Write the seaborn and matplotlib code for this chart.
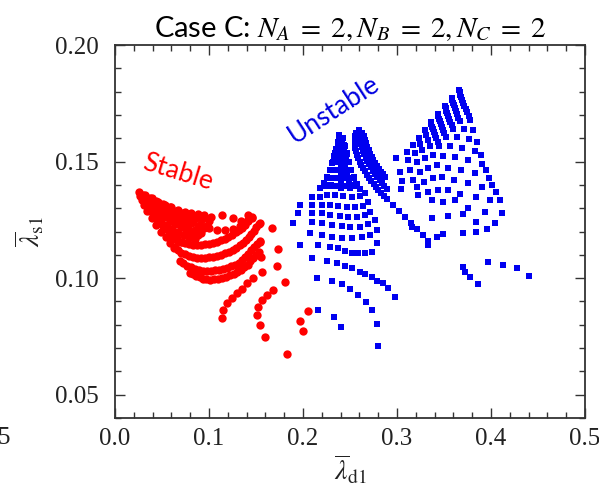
import numpy as np
import pandas as pd
import matplotlib
matplotlib.use("Agg")
import matplotlib.pyplot as plt
import seaborn as sns
from matplotlib.ticker import MultipleLocator

# ---------------- data ----------------
# Stable (red): wedge rays near the apex
red_wa_x = [0.025, 0.032, 0.039, 0.046, 0.053, 0.060, 0.067, 0.074, 0.081, 0.088, 0.095, 0.102]
red_wa_y = [0.1370, 0.1357, 0.1343, 0.1327, 0.1314, 0.1303, 0.1292, 0.1285, 0.1280, 0.1277, 0.1272, 0.1262]
red_wab_x = [0.030, 0.037, 0.044, 0.051, 0.058, 0.065, 0.072, 0.079, 0.086, 0.093, 0.100]
red_wab_y = [0.1358, 0.1345, 0.1330, 0.1316, 0.1303, 0.1290, 0.1278, 0.1268, 0.1260, 0.1252, 0.1244]
red_wb_x = [0.027, 0.034, 0.041, 0.048, 0.055, 0.062, 0.069, 0.076, 0.083, 0.090, 0.097]
red_wb_y = [0.1352, 0.1335, 0.1318, 0.1302, 0.1288, 0.1275, 0.1263, 0.1251, 0.1240, 0.1230, 0.1222]
red_wbc_x = [0.032, 0.039, 0.046, 0.053, 0.060, 0.067, 0.074, 0.081, 0.088, 0.095]
red_wbc_y = [0.1340, 0.1322, 0.1305, 0.1289, 0.1274, 0.1260, 0.1247, 0.1235, 0.1224, 0.1213]
red_wc_x = [0.029, 0.036, 0.043, 0.050, 0.057, 0.064, 0.071, 0.078, 0.085, 0.092]
red_wc_y = [0.1333, 0.1312, 0.1293, 0.1276, 0.1260, 0.1245, 0.1231, 0.1218, 0.1206, 0.1195]
red_wcd_x = [0.034, 0.040, 0.046, 0.052, 0.058, 0.064, 0.070, 0.076, 0.082, 0.088]
red_wcd_y = [0.1320, 0.1300, 0.1281, 0.1263, 0.1247, 0.1232, 0.1219, 0.1206, 0.1194, 0.1184]
red_wd_x = [0.031, 0.037, 0.043, 0.049, 0.055, 0.061, 0.067, 0.073, 0.079, 0.085]
red_wd_y = [0.1312, 0.1288, 0.1266, 0.1246, 0.1228, 0.1212, 0.1198, 0.1186, 0.1175, 0.1166]
red_wde_x = [0.036, 0.041, 0.046, 0.051, 0.056, 0.061, 0.066, 0.071]
red_wde_y = [0.1300, 0.1273, 0.1248, 0.1225, 0.1205, 0.1186, 0.1170, 0.1156]
red_we_x = [0.034, 0.039, 0.044, 0.049, 0.054, 0.059, 0.064]
red_we_y = [0.1290, 0.1258, 0.1228, 0.1200, 0.1175, 0.1152, 0.1132]
# Stable: bands (arcs)
red_b0_x = [0.100, 0.108, 0.117, 0.125, 0.133, 0.140, 0.114, 0.1255, 0.134, 0.1415, 0.1457]
red_b0_y = [0.1215, 0.1208, 0.1205, 0.1210, 0.1225, 0.1245, 0.1271, 0.1258, 0.1246, 0.1271, 0.1263]
red_b1_x = [0.0585, 0.066, 0.0745, 0.083, 0.0915, 0.100, 0.1085, 0.117, 0.1245, 0.1319, 0.1383, 0.1457,
            0.0622, 0.0702, 0.0787, 0.0872, 0.0957, 0.1042, 0.1127, 0.1207, 0.1282, 0.1351, 0.1420]
red_b1_y = [0.1181, 0.1164, 0.1151, 0.1143, 0.1143, 0.1147, 0.1156, 0.1168, 0.1186, 0.1207, 0.1228, 0.1258,
            0.1172, 0.1157, 0.1147, 0.1143, 0.1145, 0.1151, 0.1162, 0.1177, 0.1196, 0.1217, 0.1243]
red_b2_x = [0.0628, 0.0702, 0.0787, 0.0872, 0.0957, 0.1043, 0.1128, 0.1213, 0.1287, 0.1362, 0.1426, 0.1479, 0.1532,
            0.0665, 0.0745, 0.0830, 0.0915, 0.1000, 0.1085, 0.1170, 0.1250, 0.1325, 0.1394, 0.1452, 0.1505]
red_b2_y = [0.1130, 0.1108, 0.1096, 0.1087, 0.1087, 0.1091, 0.1100, 0.1113, 0.1130, 0.1151, 0.1177, 0.1203, 0.1233,
            0.1119, 0.1102, 0.1091, 0.1087, 0.1089, 0.1095, 0.1106, 0.1121, 0.1140, 0.1164, 0.1190, 0.1218]
red_b3_x = [0.0691, 0.0766, 0.0851, 0.0936, 0.1021, 0.1106, 0.1191, 0.1277, 0.1351, 0.1415, 0.1479, 0.1543,
            0.0728, 0.0808, 0.0893, 0.0978, 0.1063, 0.1148, 0.1234, 0.1314, 0.1383, 0.1447, 0.1511]
red_b3_y = [0.1074, 0.1053, 0.1040, 0.1031, 0.1031, 0.1036, 0.1044, 0.1057, 0.1078, 0.1104, 0.1134, 0.1160,
            0.1063, 0.1046, 0.1035, 0.1031, 0.1033, 0.1040, 0.1050, 0.1067, 0.1091, 0.1119, 0.1147]
red_b4_x = [0.0798, 0.0862, 0.0936, 0.1011, 0.1096, 0.1181, 0.1266, 0.1340, 0.1415, 0.1468, 0.1532,
            0.0830, 0.0899, 0.0973, 0.1053, 0.1138, 0.1223, 0.1303, 0.1377, 0.1441, 0.1500]
red_b4_y = [0.1023, 0.1010, 0.0997, 0.0993, 0.0997, 0.1006, 0.1018, 0.1036, 0.1057, 0.1087, 0.1113,
            0.1016, 0.1003, 0.0995, 0.0995, 0.1001, 0.1012, 0.1027, 0.1046, 0.1072, 0.1100]
red_c_x = [0.1138, 0.1149, 0.1191, 0.1245, 0.1298, 0.1351, 0.1404, 0.1468, 0.1564, 0.1553, 0.1543, 0.1543]
red_c_y = [0.0830, 0.0864, 0.0894, 0.0916, 0.0937, 0.0954, 0.0980, 0.1001, 0.1027, 0.1091, 0.1156, 0.1237]
red_d_x = [0.1596, 0.1543, 0.1511, 0.1521, 0.1564, 0.1617, 0.1681, 0.1809, 0.1723, 0.1734, 0.1670]
red_d_y = [0.0748, 0.0800, 0.0843, 0.0877, 0.0907, 0.0929, 0.0950, 0.0984, 0.1053, 0.1126, 0.1216]
red_e_x = [0.2053, 0.1968, 0.2000, 0.1830]
red_e_y = [0.0860, 0.0817, 0.0774, 0.0676]

# Unstable (blue): cone, as lines from the apex and rows across
blu_cl_x = [0.2383, 0.2372, 0.2351, 0.2330, 0.2309, 0.2287, 0.2255, 0.2223, 0.2181]
blu_cl_y = [0.1614, 0.1584, 0.1554, 0.1524, 0.1494, 0.1464, 0.1434, 0.1408, 0.1387]
blu_cl2_x = [0.2383, 0.2362, 0.2340, 0.2309, 0.2277, 0.2245]
blu_cl2_y = [0.1593, 0.1550, 0.1507, 0.1464, 0.1430, 0.1396]
blu_cml_x = [0.2394, 0.2383, 0.2372, 0.2362, 0.2340, 0.2319, 0.2298]
blu_cml_y = [0.1601, 0.1567, 0.1533, 0.1499, 0.1464, 0.1430, 0.1400]
blu_cm_x = [0.2404, 0.2404, 0.2404, 0.2404, 0.2404, 0.2404, 0.2404]
blu_cm_y = [0.1593, 0.1559, 0.1524, 0.1490, 0.1456, 0.1421, 0.1387]
blu_cmr_x = [0.2415, 0.2426, 0.2436, 0.2447, 0.2468, 0.2489, 0.2500]
blu_cmr_y = [0.1589, 0.1554, 0.1520, 0.1486, 0.1451, 0.1417, 0.1387]
blu_cr2_x = [0.2415, 0.2436, 0.2457, 0.2479, 0.2511, 0.2543]
blu_cr2_y = [0.1597, 0.1550, 0.1507, 0.1464, 0.1430, 0.1396]
blu_cr_x = [0.2426, 0.2447, 0.2468, 0.2489, 0.2511, 0.2543, 0.2574, 0.2606]
blu_cr_y = [0.1601, 0.1567, 0.1533, 0.1499, 0.1464, 0.1434, 0.1404, 0.1383]
blu_h1_x = [0.2372, 0.2394, 0.2415, 0.2436]
blu_h1_y = [0.1570, 0.1570, 0.1570, 0.1570]
blu_h2_x = [0.2340, 0.2362, 0.2383, 0.2404, 0.2426, 0.2447, 0.2468]
blu_h2_y = [0.1535, 0.1535, 0.1535, 0.1535, 0.1535, 0.1535, 0.1535]
blu_h3_x = [0.2319, 0.2340, 0.2362, 0.2383, 0.2404, 0.2426, 0.2447, 0.2468, 0.2489]
blu_h3_y = [0.1500, 0.1500, 0.1500, 0.1500, 0.1500, 0.1500, 0.1500, 0.1500, 0.1500]
blu_h4_x = [0.2298, 0.2319, 0.2340, 0.2362, 0.2383, 0.2404, 0.2426, 0.2447, 0.2468, 0.2489, 0.2511]
blu_h4_y = [0.1465, 0.1465, 0.1465, 0.1465, 0.1465, 0.1465, 0.1465, 0.1465, 0.1465, 0.1465, 0.1465]
blu_h5_x = [0.2266, 0.2290, 0.2315, 0.2340, 0.2365, 0.2390, 0.2415, 0.2440, 0.2465, 0.2490, 0.2515, 0.2540]
blu_h5_y = [0.1430, 0.1430, 0.1430, 0.1430, 0.1430, 0.1430, 0.1430, 0.1430, 0.1430, 0.1430, 0.1430, 0.1430]
blu_h6_x = [0.2234, 0.2260, 0.2285, 0.2310, 0.2335, 0.2360, 0.2385, 0.2410, 0.2435, 0.2460, 0.2485, 0.2510, 0.2535, 0.2560]
blu_h6_y = [0.1400, 0.1398, 0.1397, 0.1396, 0.1396, 0.1396, 0.1396, 0.1396, 0.1396, 0.1396, 0.1397, 0.1398, 0.1400, 0.1402]
# Unstable: arcs below the cone
blu_ra_x = [0.2096, 0.2181, 0.2255, 0.2340, 0.2426, 0.2521, 0.2606, 0.2660]
blu_ra_y = [0.1348, 0.1348, 0.1357, 0.1357, 0.1353, 0.1348, 0.1353, 0.1366]
blu_rb_x = [0.1968, 0.2096, 0.2202, 0.2287, 0.2372, 0.2468, 0.2553, 0.2638, 0.2691]
blu_rb_y = [0.1314, 0.1314, 0.1314, 0.1314, 0.1310, 0.1306, 0.1306, 0.1310, 0.1327]
blu_rc_x = [0.1947, 0.2096, 0.2202, 0.2287, 0.2394, 0.2479, 0.2574, 0.2660, 0.2713]
blu_rc_y = [0.1280, 0.1280, 0.1280, 0.1271, 0.1267, 0.1263, 0.1263, 0.1271, 0.1284]
blu_rd_x = [0.1894, 0.2096, 0.2202, 0.2309, 0.2415, 0.2500, 0.2606, 0.2691, 0.2766]
blu_rd_y = [0.1237, 0.1241, 0.1237, 0.1228, 0.1224, 0.1220, 0.1220, 0.1233, 0.1250]
blu_re_x = [0.2074, 0.2202, 0.2309, 0.2415, 0.2521, 0.2628, 0.2713, 0.2787]
blu_re_y = [0.1194, 0.1186, 0.1177, 0.1173, 0.1173, 0.1177, 0.1186, 0.1207]
blu_rf_x = [0.1968, 0.2160, 0.2287, 0.2372, 0.2447, 0.2521, 0.2585, 0.2660, 0.2734, 0.2787]
blu_rf_y = [0.1143, 0.1143, 0.1134, 0.1130, 0.1117, 0.1108, 0.1108, 0.1108, 0.1113, 0.1151]
blu_rg_x = [0.2096, 0.2255, 0.2362, 0.2447, 0.2521, 0.2606, 0.2660, 0.2734, 0.2787, 0.2851, 0.2904, 0.2979]
blu_rg_y = [0.1087, 0.1074, 0.1066, 0.1053, 0.1044, 0.1027, 0.1018, 0.1006, 0.0988, 0.0980, 0.0958, 0.0920]
blu_rh_x = [0.2149, 0.2309, 0.2415, 0.2500, 0.2585, 0.2670, 0.2734, 0.2787]
blu_rh_y = [0.1001, 0.0988, 0.0976, 0.0954, 0.0929, 0.0898, 0.0864, 0.0804]
blu_ri_x = [0.2160, 0.2330, 0.2404, 0.2798]
blu_ri_y = [0.0864, 0.0834, 0.0791, 0.0710]
# Unstable: ridge
blu_g1_x = [0.2564, 0.2553, 0.2553, 0.2574, 0.2606, 0.2638, 0.2681, 0.2723, 0.2777, 0.2830, 0.2894,
            0.2957, 0.3021, 0.3085, 0.3149, 0.3213, 0.3277, 0.3330,
            0.2558, 0.2553, 0.2564, 0.2590, 0.2622, 0.2660, 0.2702, 0.2750, 0.2803, 0.2862]
blu_g1_y = [0.1623, 0.1593, 0.1559, 0.1529, 0.1499, 0.1473, 0.1443, 0.1417, 0.1391, 0.1366, 0.1340,
            0.1314, 0.1289, 0.1263, 0.1237, 0.1211, 0.1186, 0.1160,
            0.1608, 0.1576, 0.1544, 0.1514, 0.1486, 0.1458, 0.1430, 0.1404, 0.1378, 0.1353]
blu_g2_x = [0.2596, 0.2606, 0.2617, 0.2638, 0.2670, 0.2702, 0.2745, 0.2787, 0.2840, 0.2894,
            0.2601, 0.2612, 0.2628, 0.2654, 0.2686, 0.2723, 0.2766, 0.2814, 0.2867]
blu_g2_y = [0.1636, 0.1606, 0.1576, 0.1546, 0.1516, 0.1490, 0.1460, 0.1434, 0.1408, 0.1383,
            0.1621, 0.1591, 0.1561, 0.1531, 0.1503, 0.1475, 0.1447, 0.1421, 0.1395]
blu_g3_x = [0.2628, 0.2660, 0.2681, 0.2713, 0.2745, 0.2787, 0.2830, 0.2872,
            0.2644, 0.2670, 0.2697, 0.2729, 0.2766, 0.2809, 0.2851]
blu_g3_y = [0.1623, 0.1593, 0.1563, 0.1533, 0.1507, 0.1481, 0.1456, 0.1434,
            0.1608, 0.1578, 0.1548, 0.1520, 0.1494, 0.1468, 0.1445]
blu_g4_x = [0.3426, 0.3489, 0.3330, 0.3160]
blu_g4_y = [0.1177, 0.1190, 0.1143, 0.1220]
# Unstable: right lattice (columns)
blu_k0_x = [0.2989, 0.3032, 0.3053, 0.3043]
blu_k0_y = [0.1516, 0.1456, 0.1417, 0.1383]
blu_k1_x = [0.3106, 0.3117, 0.3138, 0.3170, 0.3213, 0.3223]
blu_k1_y = [0.1541, 0.1507, 0.1464, 0.1421, 0.1391, 0.1357]
blu_k2_x = [0.3170, 0.3191, 0.3213, 0.3245, 0.3287, 0.3330, 0.3372]
blu_k2_y = [0.1571, 0.1537, 0.1499, 0.1456, 0.1413, 0.1370, 0.1336]
blu_k3_x = [0.3234, 0.3245, 0.3266, 0.3298, 0.3330, 0.3383, 0.3436, 0.3489, 0.3543]
blu_k3_y = [0.1601, 0.1576, 0.1550, 0.1516, 0.1473, 0.1430, 0.1378, 0.1327, 0.1267]
blu_k4_x = [0.3298, 0.3309, 0.3330, 0.3351, 0.3383, 0.3426, 0.3479, 0.3543, 0.3617, 0.3702]
blu_k4_y = [0.1636, 0.1614, 0.1593, 0.1567, 0.1529, 0.1486, 0.1434, 0.1378, 0.1336, 0.1276]
blu_k5_x = [0.3362, 0.3372, 0.3394, 0.3415, 0.3447, 0.3489, 0.3543, 0.3606, 0.3670, 0.3755, 0.3840,
            0.3367, 0.3383, 0.3404, 0.3431]
blu_k5_y = [0.1670, 0.1649, 0.1627, 0.1601, 0.1567, 0.1524, 0.1473, 0.1421, 0.1361, 0.1301, 0.1241,
            0.1660, 0.1638, 0.1614, 0.1584]
blu_k6_x = [0.3436, 0.3447, 0.3468, 0.3489, 0.3521, 0.3564, 0.3617, 0.3681, 0.3755, 0.3840, 0.3936,
            0.3441, 0.3457, 0.3479, 0.3505]
blu_k6_y = [0.1704, 0.1683, 0.1661, 0.1636, 0.1606, 0.1567, 0.1520, 0.1464, 0.1408, 0.1348, 0.1284,
            0.1694, 0.1672, 0.1649, 0.1621]
blu_k7_x = [0.3511, 0.3521, 0.3543, 0.3564, 0.3596, 0.3638, 0.3691, 0.3755, 0.3830, 0.3904, 0.3989,
            0.3516, 0.3532, 0.3553, 0.3580]
blu_k7_y = [0.1739, 0.1717, 0.1696, 0.1670, 0.1640, 0.1606, 0.1559, 0.1507, 0.1451, 0.1391, 0.1336,
            0.1728, 0.1707, 0.1683, 0.1655]
blu_k8_x = [0.3585, 0.3596, 0.3617, 0.3638, 0.3670, 0.3713, 0.3766, 0.3830, 0.3904, 0.3979, 0.4053,
            0.3590, 0.3606, 0.3627, 0.3654]
blu_k8_y = [0.1773, 0.1751, 0.1730, 0.1704, 0.1674, 0.1640, 0.1597, 0.1546, 0.1490, 0.1430, 0.1370,
            0.1762, 0.1741, 0.1717, 0.1689]
blu_k9_x = [0.3660, 0.3670, 0.3691, 0.3713, 0.3745, 0.3777, 0.3809, 0.3851, 0.3894, 0.3947, 0.4011, 0.4096, 0.4117,
            0.3665, 0.3681, 0.3702, 0.3729, 0.3761]
blu_k9_y = [0.1807, 0.1786, 0.1764, 0.1739, 0.1713, 0.1679, 0.1636, 0.1584, 0.1529, 0.1464, 0.1400, 0.1336, 0.1280,
            0.1797, 0.1775, 0.1752, 0.1726, 0.1696]
blu_kb_x = [0.3489, 0.3702, 0.3840, 0.3957, 0.4043, 0.3372, 0.3426]
blu_kb_y = [0.1190, 0.1194, 0.1198, 0.1211, 0.1237, 0.1258, 0.1177]
# Unstable: isolated points lower right
blu_s_x = [0.3702, 0.3723, 0.3777, 0.3862, 0.3968, 0.4128, 0.4277, 0.4404]
blu_s_y = [0.1048, 0.1027, 0.1006, 0.0976, 0.1070, 0.1057, 0.1044, 0.1010]

x_ticks = [0.0, 0.1, 0.2, 0.3, 0.4, 0.5]
y_ticks = [0.05, 0.10, 0.15, 0.20]

# ---------------- assemble ----------------
red_x = np.concatenate([red_wa_x, red_wab_x, red_wb_x, red_wbc_x, red_wc_x, red_wcd_x, red_wd_x,
                        red_wde_x, red_we_x, red_b0_x, red_b1_x, red_b2_x, red_b3_x, red_b4_x,
                        red_c_x, red_d_x, red_e_x])
red_y = np.concatenate([red_wa_y, red_wab_y, red_wb_y, red_wbc_y, red_wc_y, red_wcd_y, red_wd_y,
                        red_wde_y, red_we_y, red_b0_y, red_b1_y, red_b2_y, red_b3_y, red_b4_y,
                        red_c_y, red_d_y, red_e_y])
blu_x = np.concatenate([blu_cl_x, blu_cl2_x, blu_cml_x, blu_cm_x, blu_cmr_x, blu_cr2_x, blu_cr_x,
                        blu_h1_x, blu_h2_x, blu_h3_x, blu_h4_x, blu_h5_x, blu_h6_x,
                        blu_ra_x, blu_rb_x, blu_rc_x, blu_rd_x, blu_re_x, blu_rf_x, blu_rg_x, blu_rh_x,
                        blu_ri_x, blu_g1_x, blu_g2_x, blu_g3_x, blu_g4_x, blu_k0_x, blu_k1_x, blu_k2_x,
                        blu_k3_x, blu_k4_x, blu_k5_x, blu_k6_x, blu_k7_x, blu_k8_x, blu_k9_x, blu_kb_x,
                        blu_s_x])
blu_y = np.concatenate([blu_cl_y, blu_cl2_y, blu_cml_y, blu_cm_y, blu_cmr_y, blu_cr2_y, blu_cr_y,
                        blu_h1_y, blu_h2_y, blu_h3_y, blu_h4_y, blu_h5_y, blu_h6_y,
                        blu_ra_y, blu_rb_y, blu_rc_y, blu_rd_y, blu_re_y, blu_rf_y, blu_rg_y, blu_rh_y,
                        blu_ri_y, blu_g1_y, blu_g2_y, blu_g3_y, blu_g4_y, blu_k0_y, blu_k1_y, blu_k2_y,
                        blu_k3_y, blu_k4_y, blu_k5_y, blu_k6_y, blu_k7_y, blu_k8_y, blu_k9_y, blu_kb_y,
                        blu_s_y])

df_red = pd.DataFrame({"ld1": red_x, "ls1": red_y})
df_blu = pd.DataFrame({"ld1": blu_x, "ls1": blu_y})

# ---------------- plot ----------------
sns.set_theme(style="ticks")
plt.rcParams["font.family"] = ["Liberation Serif", "DejaVu Serif"]
plt.rcParams["mathtext.fontset"] = "stix"

fig = plt.figure(figsize=(5.99, 5.0), dpi=100)
ax = fig.add_axes([115 / 599, 1 - 418 / 500, 470 / 599, 373 / 500])

sns.scatterplot(data=df_red, x="ld1", y="ls1", ax=ax, color="#ff0000", s=36,
                linewidth=0, marker="o", legend=False)
sns.scatterplot(data=df_blu, x="ld1", y="ls1", ax=ax, color="#0000f0", s=15,
                linewidth=0, marker="s", legend=False)

ax.set_xlim(0.0, 0.5)
ax.set_ylim(0.04, 0.20)
ax.set_xticks(x_ticks)
ax.set_xticklabels([f"{v:.1f}" for v in x_ticks])
ax.set_yticks(y_ticks)
ax.set_yticklabels([f"{v:.2f}" for v in y_ticks])
ax.xaxis.set_minor_locator(MultipleLocator(0.02))
ax.yaxis.set_minor_locator(MultipleLocator(0.01))
ax.tick_params(which="both", direction="in", top=True, right=True, colors="#333333",
               labelcolor="#222222", labelsize=18, width=1.0)
ax.tick_params(which="major", length=7)
ax.tick_params(which="minor", length=4)
ax.tick_params(axis="x", which="major", pad=7)
ax.tick_params(axis="y", which="major", pad=12)
for sp in ax.spines.values():
    sp.set_linewidth(1.3)
    sp.set_color("#333333")

ax.set_xlabel(r"$\overline{\lambda}_{\mathrm{d1}}$", fontsize=20, labelpad=2, color="#222222")
ax.set_ylabel(r"$\overline{\lambda}_{\mathrm{s1}}$", fontsize=20, labelpad=6, color="#222222")

ax.set_title(r"Case C: $N_A\;=\;2, N_B\;=\;2, N_C\;=\;2$", fontsize=21,
             family=["Lato", "DejaVu Sans"], pad=6, color="black")

ax.text(0.067, 0.1455, "Stable", color="#ff0000", fontsize=19, family=["Lato", "DejaVu Sans"],
        rotation=-17, ha="center", va="center")
ax.text(0.233, 0.1725, "Unstable", color="#0000e0", fontsize=19, family=["Lato", "DejaVu Sans"],
        rotation=33, ha="center", va="center")

fig.text(-0.004, 1 - 438 / 500, "5", fontsize=18, ha="left", va="center", color="#222222")

fig.savefig("out.png", dpi=100)
